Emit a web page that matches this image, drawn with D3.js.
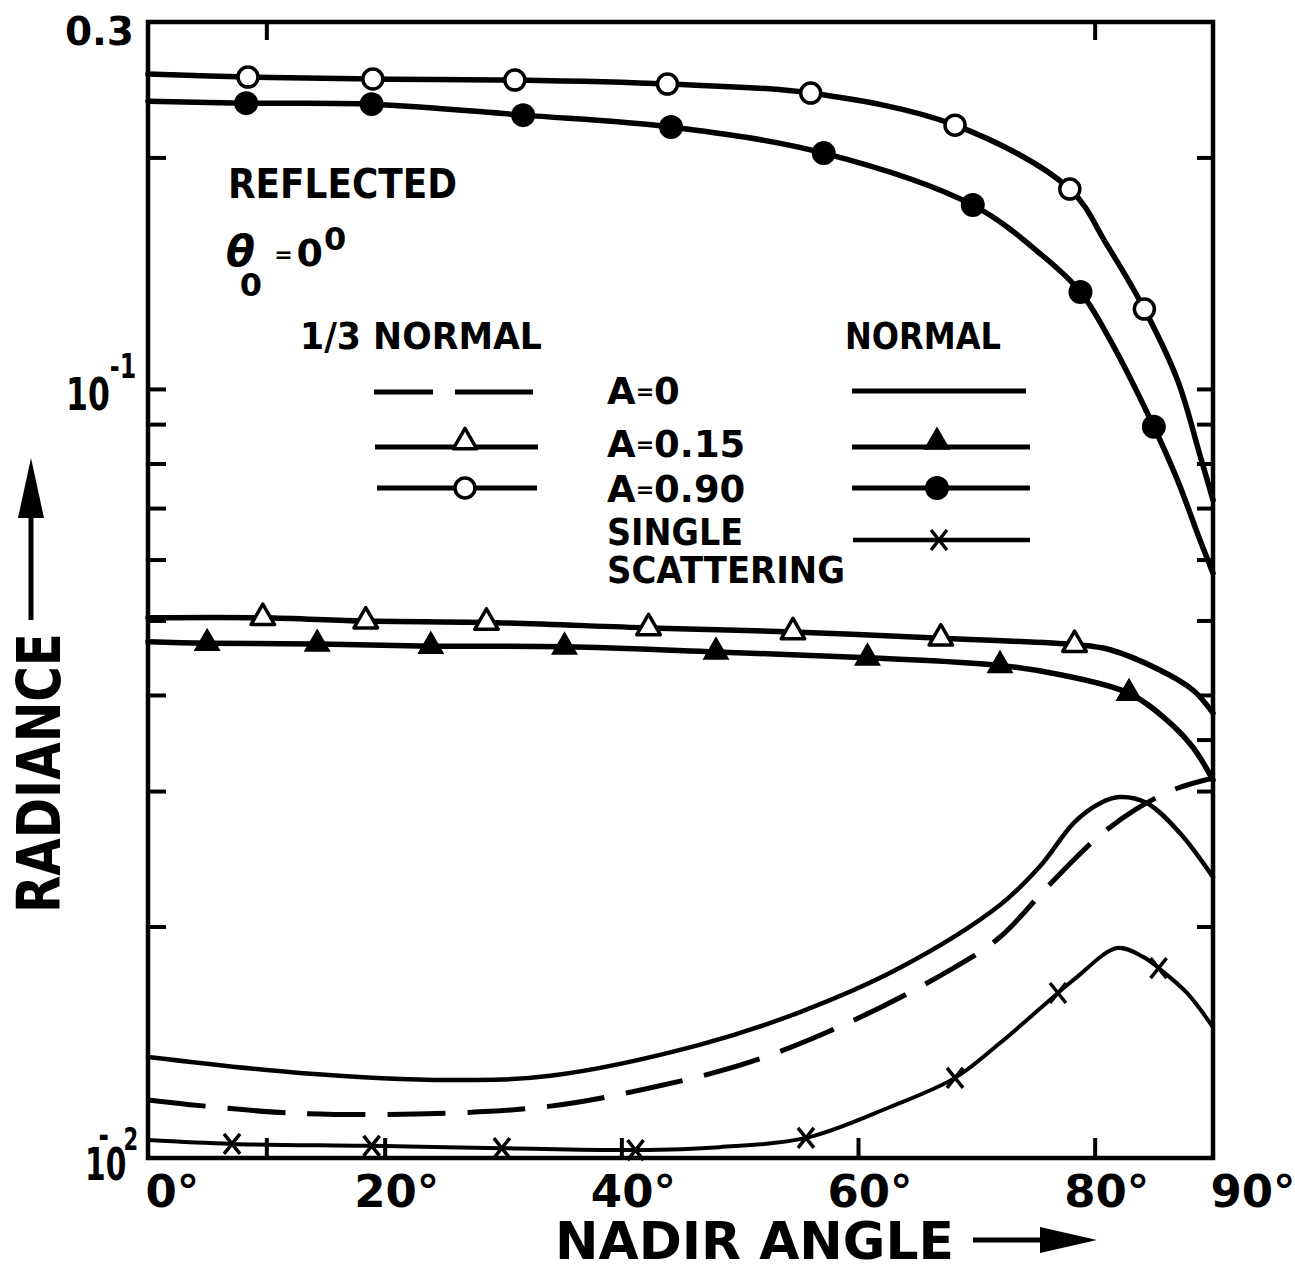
<!DOCTYPE html>
<html>
<head>
<meta charset="utf-8">
<script src="https://cdn.jsdelivr.net/npm/d3@7"></script>
<style>
  body { margin: 0; background: #fff; }
  text { font-family: "DejaVu Sans", "Liberation Sans", sans-serif; font-weight: bold; fill: #000; }
</style>
</head>
<body>
<svg id="chart" width="1295" height="1271"></svg>
<script>
// Nadir angle (degrees) vs reflected radiance, theta0 = 0.
// Each curve is a list of [angle, radiance]; marker lists hold the plotted symbols.

const angleLabels = [0, 20, 40, 60, 80, 90];
const bottomTicks = [10, 20, 40, 60, 80];
const topTicks = [10, 80];
const leftTicks = [0.02, 0.03, 0.04, 0.05, 0.06, 0.07, 0.08, 0.09, 0.1, 0.2];
const rightTicks = [0.02, 0.03, 0.035, 0.04, 0.05, 0.06, 0.07, 0.08, 0.09, 0.1, 0.2];

// 1/3 normal, A = 0.90 (open circles)
const thirdA090 = [[0, 0.2567], [8.45, 0.2544], [19.0, 0.2529], [31.0, 0.2521], [43.9, 0.2491],
  [56.0, 0.2425], [68.2, 0.2203], [77.9, 0.1819], [81.05, 0.1538],
  [84.2, 0.1270], [87.0, 0.1027], [88.9, 0.0820], [90, 0.0717]];
const thirdA090Marks = [[8.45, 0.2544], [19.0, 0.2529], [31.0, 0.2521], [43.9, 0.2491],
  [56.0, 0.2425], [68.2, 0.2203], [77.9, 0.1819], [84.2, 0.1270]];

// normal, A = 0.90 (filled circles)
const normalA090 = [[0, 0.2367], [8.3, 0.2353], [18.9, 0.2346], [31.7, 0.2270], [44.2, 0.2191],
  [57.1, 0.2026], [69.7, 0.1734], [75.6, 0.1490], [78.8, 0.1337], [81.3, 0.1158],
  [85.0, 0.0893], [87.0, 0.0761], [88.9, 0.0636], [90, 0.0576]];
const normalA090Marks = [[8.3, 0.2353], [18.9, 0.2346], [31.7, 0.2270], [44.2, 0.2191],
  [57.1, 0.2026], [69.7, 0.1734], [78.8, 0.1337], [85.0, 0.0893]];

// 1/3 normal, A = 0.15 (open triangles)
const thirdA015 = [[0, 0.0504], [9.7, 0.0504], [18.4, 0.0499], [28.6, 0.0497], [42.3, 0.0489],
  [54.5, 0.0483], [67.0, 0.0474], [78.3, 0.0465], [81.3, 0.0458], [85.5, 0.0431],
  [88.3, 0.0406], [90, 0.0379]];
const thirdA015Marks = [[9.7, 0.0504], [18.4, 0.0499], [28.6, 0.0497], [42.3, 0.0489],
  [54.5, 0.0483], [67.0, 0.0474], [78.3, 0.0465]];

// normal, A = 0.15 (filled triangles)
const normalA015 = [[0, 0.0469], [5.0, 0.0467], [14.3, 0.0466], [23.9, 0.0463], [35.2, 0.0462],
  [48.0, 0.0455], [60.8, 0.0447], [72.0, 0.0437], [77.1, 0.0425], [82.9, 0.0402],
  [86.1, 0.0371], [88.3, 0.0342], [90, 0.0310]];
const normalA015Marks = [[5.0, 0.0467], [14.3, 0.0466], [23.9, 0.0463], [35.2, 0.0462],
  [48.0, 0.0455], [60.8, 0.0447], [72.0, 0.0437], [82.9, 0.0402]];

// normal, A = 0 (solid line)
const normalA0 = [[0, 0.01353], [12.8, 0.01290], [25.5, 0.01263], [34.0, 0.01279],
  [46.6, 0.01403], [55.1, 0.01548], [63.5, 0.01766], [72.0, 0.02133], [75.4, 0.02397],
  [78.3, 0.02734], [80.5, 0.02895], [82.1, 0.02947], [84.4, 0.02895], [87.2, 0.02646], [90, 0.02319]];

// 1/3 normal, A = 0 (dashed line)
const thirdA0 = [[0, 0.01190], [12.0, 0.01144], [25.5, 0.01144], [34.0, 0.01168], [42.4, 0.01233],
  [50.9, 0.01333], [59.3, 0.01502], [67.8, 0.01756], [72.0, 0.01938], [76.0, 0.02251],
  [80.2, 0.02607], [83.4, 0.02835], [86.6, 0.03010], [90, 0.03120]];

// single scattering (crosses)
const singleScat = [[0, 0.01055], [7.1, 0.01043], [18.9, 0.01037], [29.9, 0.01030], [41.2, 0.01024],
  [48.3, 0.01033], [55.6, 0.01062], [62.7, 0.01165], [68.2, 0.01271], [72.0, 0.01411],
  [76.9, 0.01639], [78.5, 0.01719], [81.9, 0.01875], [84.1, 0.01826], [85.4, 0.01766],
  [87.8, 0.01639], [90, 0.01479]];
const singleScatMarks = [[7.1, 0.01043], [18.9, 0.01037], [29.9, 0.01030], [41.2, 0.01024],
  [55.6, 0.01062], [68.2, 0.01271], [76.9, 0.01639], [85.4, 0.01766]];

const svg = d3.select("#chart");
const x = d3.scaleLinear().domain([0, 90]).range([148, 1213]);
const y = d3.scaleLog().domain([0.01, 0.3]).range([1158, 22]);

// ---- frame and ticks ----
function styleAxis(g) {
  g.select(".domain").remove();
  g.selectAll(".tick line").attr("stroke", "#000").attr("stroke-width", 4);
}
svg.append("g").attr("transform", "translate(0,1158)")
  .call(d3.axisBottom(x).tickValues(bottomTicks).tickSize(-20).tickFormat(""))
  .call(styleAxis);
svg.append("g").attr("transform", "translate(0,22)")
  .call(d3.axisTop(x).tickValues(topTicks).tickSize(-18).tickFormat(""))
  .call(styleAxis);
svg.append("g").attr("transform", "translate(148,0)")
  .call(d3.axisLeft(y).tickValues(leftTicks).tickSize(-18).tickFormat(""))
  .call(styleAxis);
svg.append("g").attr("transform", "translate(1213,0)")
  .call(d3.axisRight(y).tickValues(rightTicks).tickSize(-16).tickFormat(""))
  .call(styleAxis);

svg.append("rect")
  .attr("x", x(0)).attr("y", y(0.3))
  .attr("width", x(90) - x(0)).attr("height", y(0.01) - y(0.3))
  .attr("fill", "none").attr("stroke", "#000").attr("stroke-width", 4.5);

// bottom tick labels
const xl = svg.append("g").attr("transform", "translate(0,1158)")
  .call(d3.axisBottom(x).tickValues(angleLabels).tickSize(0).tickFormat(d => d + "°"));
xl.select(".domain").remove();
xl.selectAll("text")
  .attr("y", 49).attr("dy", 0)
  .attr("font-size", 45)
  .attr("text-anchor", "start")
  .attr("dx", d => (d === 0 || d === 90) ? -3 : -31)
  .style("font-family", "'DejaVu Sans', sans-serif")
  .style("font-weight", "bold")
  .attr("fill", "#000");

// left tick labels (powers of ten drawn narrow, superscript as tspans)
svg.append("text").attr("x", 134).attr("y", y(0.3) + 23)
  .attr("text-anchor", "end").attr("font-size", 39).text("0.3");

const p1 = svg.append("text")
  .attr("transform", `translate(66,${y(0.1) + 21}) scale(0.7,1)`)
  .attr("font-size", 45);
p1.append("tspan").text("10");
p1.append("tspan").attr("font-size", 34).attr("dy", -32).text("-1");

const p2 = svg.append("text")
  .attr("transform", `translate(85,${y(0.01) + 22}) scale(0.66,1)`)
  .attr("font-size", 45);
p2.append("tspan").text("10");
p2.append("tspan").attr("font-size", 38).attr("dx", -42).attr("dy", -32).text("-");
p2.append("tspan").attr("font-size", 32).attr("dx", 22).attr("dy", 2).text("2");

// axis titles with arrows
svg.append("text").attr("x", 555).attr("y", 1259)
  .attr("font-size", 52).attr("textLength", 399).attr("lengthAdjust", "spacingAndGlyphs")
  .text("NADIR ANGLE");
svg.append("line").attr("x1", 973).attr("y1", 1240).attr("x2", 1060).attr("y2", 1240)
  .attr("stroke", "#000").attr("stroke-width", 5);
svg.append("path").attr("d", "M1040,1227 L1097,1240 L1040,1253 Z").attr("fill", "#000");

svg.append("text").attr("transform", "translate(60,913) rotate(-90)")
  .attr("font-size", 60).attr("textLength", 280).attr("lengthAdjust", "spacingAndGlyphs")
  .text("RADIANCE");
svg.append("line").attr("x1", 31).attr("y1", 620).attr("x2", 31).attr("y2", 500)
  .attr("stroke", "#000").attr("stroke-width", 5);
svg.append("path").attr("d", "M18,518 L31,458 L44,518 Z").attr("fill", "#000");

// ---- curves ----
const line = d3.line().x(d => x(d[0])).y(d => y(d[1])).curve(d3.curveCatmullRom.alpha(0.5));
function drawCurve(data, width, dash) {
  svg.append("path").datum(data).attr("d", line)
    .attr("fill", "none").attr("stroke", "#000").attr("stroke-width", width)
    .attr("stroke-linecap", dash ? "butt" : "round").attr("stroke-linejoin", "round")
    .attr("stroke-dasharray", dash || null);
}
drawCurve(thirdA090, 5.5);
drawCurve(normalA090, 5.5);
drawCurve(thirdA015, 5.5);
drawCurve(normalA015, 5.5);
drawCurve(normalA0, 4.5);
drawCurve(thirdA0, 5, "58,22");
drawCurve(singleScat, 4);

// ---- markers ----
const triPath = d3.symbol(d3.symbolTriangle, 240)();
function openCircle(sel) { sel.append("circle").attr("r", 10).attr("fill", "#fff").attr("stroke", "#000").attr("stroke-width", 3.5); }
function fullCircle(sel) { sel.append("circle").attr("r", 12).attr("fill", "#000"); }
function openTri(sel) { sel.append("path").attr("d", triPath).attr("fill", "#fff").attr("stroke", "#000").attr("stroke-width", 3.5).attr("stroke-linejoin", "round"); }
function fullTri(sel) { sel.append("path").attr("d", triPath).attr("fill", "#000").attr("stroke", "#000").attr("stroke-width", 2); }
function cross(sel) { sel.append("path").attr("d", "M-8,-10L8,10M8,-10L-8,10").attr("stroke", "#000").attr("stroke-width", 3.5).attr("fill", "none"); }

function drawMarks(data, shape) {
  svg.append("g").selectAll("g").data(data).join("g")
    .attr("transform", d => `translate(${x(d[0])},${y(d[1])})`)
    .each(function () { shape(d3.select(this)); });
}
drawMarks(thirdA090Marks, openCircle);
drawMarks(normalA090Marks, fullCircle);
drawMarks(thirdA015Marks, openTri);
drawMarks(normalA015Marks, fullTri);
drawMarks(singleScatMarks, cross);

// ---- annotation ----
svg.append("text").attr("x", 228).attr("y", 198)
  .attr("font-size", 40).attr("textLength", 229).attr("lengthAdjust", "spacingAndGlyphs")
  .text("REFLECTED");
const th = svg.append("text").attr("x", 226).attr("y", 266).attr("font-size", 42);
th.append("tspan").style("font-style", "italic").text("θ");
th.append("tspan").attr("font-size", 32).attr("dx", -15).attr("dy", 30).text("0");
th.append("tspan").attr("font-size", 22).attr("dx", 12).attr("dy", -34).text("=");
th.append("tspan").attr("font-size", 38).attr("dx", 4).attr("dy", 4).text("0");
th.append("tspan").attr("font-size", 32).attr("dx", 1).attr("dy", -16).text("0");

svg.append("text").attr("x", 300).attr("y", 349)
  .attr("font-size", 37).attr("textLength", 242).attr("lengthAdjust", "spacingAndGlyphs")
  .text("1/3 NORMAL");
svg.append("text").attr("x", 845).attr("y", 349)
  .attr("font-size", 37).attr("textLength", 156).attr("lengthAdjust", "spacingAndGlyphs")
  .text("NORMAL");

// legend
function legLine(x1, x2, yy, w) {
  svg.append("line").attr("x1", x1).attr("x2", x2).attr("y1", yy).attr("y2", yy)
    .attr("stroke", "#000").attr("stroke-width", w || 5);
}
function legMark(cx, cy, shape) {
  const g = svg.append("g").attr("transform", `translate(${cx},${cy})`);
  shape(g);
}
function legLabel(valueText, yy) {
  const t = svg.append("text").attr("x", 607).attr("y", yy).attr("font-size", 37);
  t.append("tspan").text("A");
  t.append("tspan").attr("font-size", 22).attr("dy", -5).text("=");
  t.append("tspan").attr("dy", 5).text(valueText);
}
legLine(374, 433, 392); legLine(455, 533, 392);
legLine(852, 1026, 391);
legLabel("0", 404);

legLine(375, 538, 447); legMark(465, 442, openTri);
legLine(852, 1030, 447); legMark(937, 442, fullTri);
legLabel("0.15", 457);

legLine(377, 537, 488); legMark(465, 488, openCircle);
legLine(852, 1030, 488); legMark(937, 488, fullCircle);
legLabel("0.90", 502);

legLine(853, 1030, 540, 4.5); legMark(939, 540, cross);
svg.append("text").attr("x", 607).attr("y", 545).attr("font-size", 37)
  .attr("textLength", 136).attr("lengthAdjust", "spacingAndGlyphs").text("SINGLE");
svg.append("text").attr("x", 607).attr("y", 583).attr("font-size", 37)
  .attr("textLength", 238).attr("lengthAdjust", "spacingAndGlyphs").text("SCATTERING");
</script>
</body>
</html>
